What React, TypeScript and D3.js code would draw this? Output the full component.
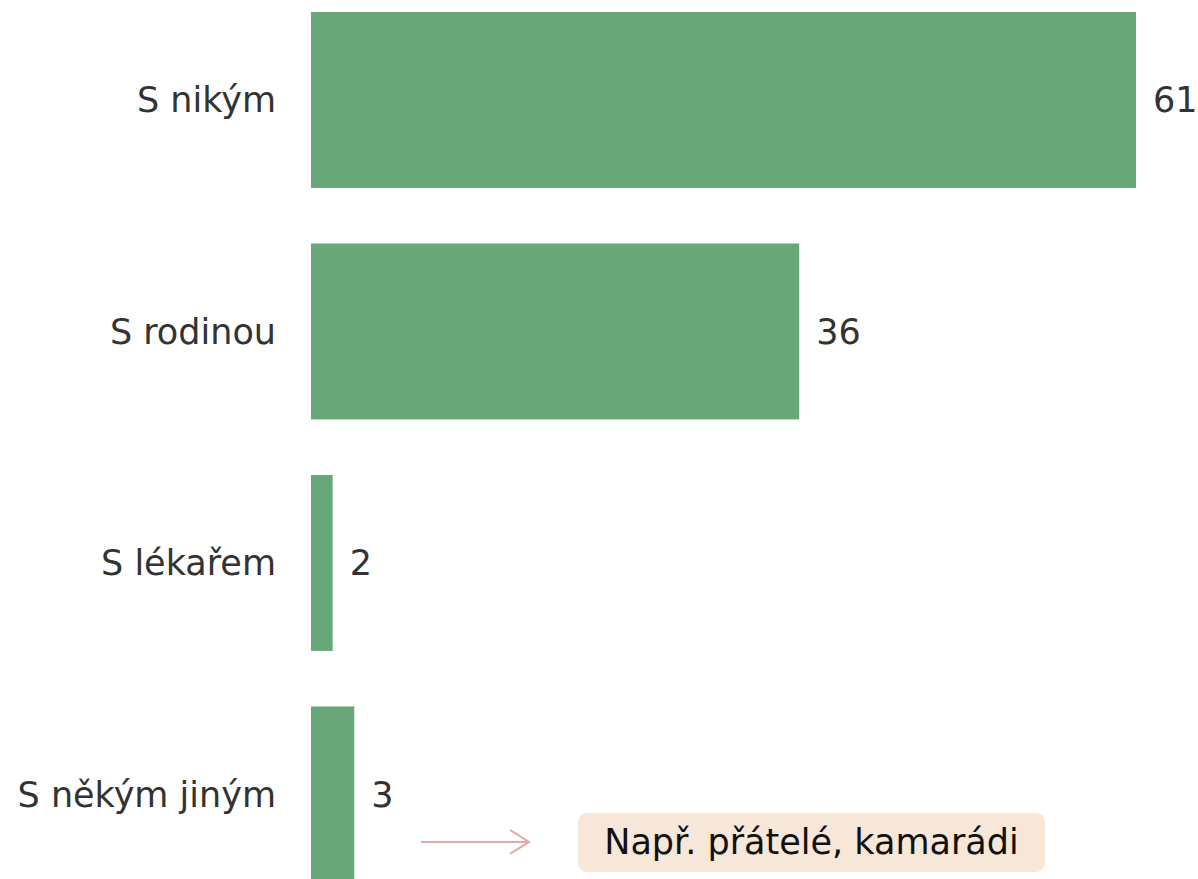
import React from 'react';
import * as d3 from 'd3';

const categories = ['S nikým', 'S rodinou', 'S lékařem', 'S někým jiným'];
const values = [61, 36.1, 1.6, 3.2];
const noteText = 'Např. přátelé, kamarádi';

const width = 1198;
const height = 879;
const barColor = '#68a777';
const textColor = '#333333';
const arrowColor = '#e3aaa6';
const font = '"DejaVu Sans", Verdana, sans-serif';
const fontSize = 35;

const x = d3.scaleLinear().domain([0, 61]).range([311, 1136]);
const y = d3
  .scaleBand<string>()
  .domain(categories)
  .range([12, 882.4])
  .paddingInner(0.24)
  .paddingOuter(0);

const fmt = d3.format('.0f');

export default function App() {
  const last = categories[categories.length - 1];
  const noteY = y(last)! + 135.5;
  const arrowStart = 421;
  const arrowEnd = 529;
  const arrowPath = d3.path();
  arrowPath.moveTo(arrowStart, noteY);
  arrowPath.lineTo(arrowEnd, noteY);
  arrowPath.moveTo(arrowEnd - 19, noteY - 12);
  arrowPath.lineTo(arrowEnd, noteY);
  arrowPath.lineTo(arrowEnd - 19, noteY + 12);

  return (
    <svg
      width={width}
      height={height}
      style={{ position: 'absolute', left: 0, top: 0 }}
      fontFamily={font}
    >
      {categories.map((c, i) => {
        const y0 = y(c)!;
        const bw = y.bandwidth();
        return (
          <g key={c}>
            <rect
              x={x(0)}
              y={y0}
              width={x(values[i]) - x(0)}
              height={bw}
              fill={barColor}
            />
            <text
              x={276}
              y={y0 + bw / 2}
              dy="0.35em"
              textAnchor="end"
              fontSize={fontSize}
              fill={textColor}
            >
              {c}
            </text>
            <text
              x={x(values[i]) + 17}
              y={y0 + bw / 2}
              dy="0.35em"
              fontSize={fontSize}
              fill={textColor}
            >
              {fmt(values[i])}
            </text>
          </g>
        );
      })}
      <path d={arrowPath.toString()} fill="none" stroke={arrowColor} strokeWidth={2} />
      <rect x={578} y={noteY - 29} width={467} height={59} rx={9} fill="#f6e7d9" />
      <text
        x={811.5}
        y={noteY}
        dy="0.35em"
        textAnchor="middle"
        fontSize={fontSize}
        fill="#111111"
      >
        {noteText}
      </text>
    </svg>
  );
}
